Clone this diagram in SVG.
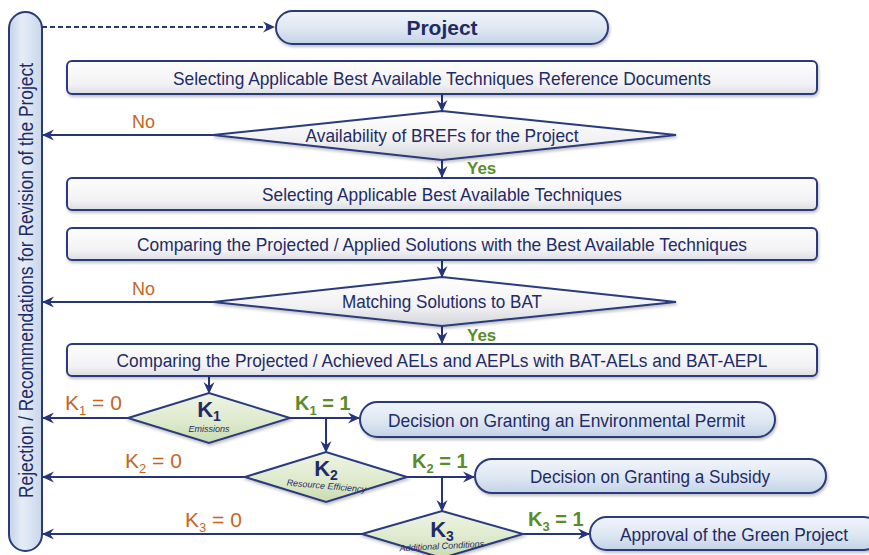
<svg xmlns="http://www.w3.org/2000/svg" width="869" height="555" viewBox="0 0 869 555">
<defs>
<linearGradient id="gBox" x1="0" y1="0" x2="0" y2="1"><stop offset="0" stop-color="#fdfdfe"/><stop offset="0.7" stop-color="#f2f2f4"/><stop offset="1" stop-color="#dcdde3"/></linearGradient>
<linearGradient id="gPill" x1="0" y1="0" x2="0" y2="1"><stop offset="0" stop-color="#f1f5fb"/><stop offset="0.6" stop-color="#dbe5f1"/><stop offset="1" stop-color="#c2d2e6"/></linearGradient>
<linearGradient id="gBar" x1="0" y1="0" x2="1" y2="0"><stop offset="0" stop-color="#c3d3e7"/><stop offset="0.4" stop-color="#e6edf6"/><stop offset="1" stop-color="#c9d7ea"/></linearGradient>
<linearGradient id="gDia" x1="0" y1="0" x2="0" y2="1"><stop offset="0" stop-color="#ffffff"/><stop offset="0.6" stop-color="#f1f1f3"/><stop offset="1" stop-color="#d2d3da"/></linearGradient>
<linearGradient id="gK" x1="0" y1="0" x2="0" y2="1"><stop offset="0" stop-color="#eef4e4"/><stop offset="0.6" stop-color="#dde9cb"/><stop offset="1" stop-color="#c9dbb0"/></linearGradient>
<filter id="sh" x="-5%" y="-20%" width="110%" height="150%"><feDropShadow dx="1" dy="2" stdDeviation="1.5" flood-color="#000" flood-opacity="0.25"/></filter>
<marker id="ah" viewBox="0 0 12 12" refX="11" refY="6" markerWidth="12" markerHeight="12" markerUnits="userSpaceOnUse" orient="auto">
<path d="M0,0.5 L12,6 L0,11.5 L4,6 Z" fill="#26357a"/>
</marker>
<style>
.box{fill:url(#gBox);stroke:#2a3a7c;stroke-width:2;filter:url(#sh)}
.pill{fill:url(#gPill);stroke:#2a3a7c;stroke-width:2;filter:url(#sh)}
.dia{fill:url(#gDia);stroke:#2a3a7c;stroke-width:2;filter:url(#sh)}
.kd{fill:url(#gK);stroke:#2a3a7c;stroke-width:2;filter:url(#sh)}
.t{font-family:"Liberation Sans",Arial,sans-serif;font-size:19px;fill:#1f2b66;text-anchor:middle}
.kt{font-family:"Liberation Sans",Arial,sans-serif;font-size:22px;font-weight:bold;fill:#1f2b66;text-anchor:middle}
.ks{font-family:"Liberation Sans",Arial,sans-serif;font-size:9px;font-style:italic;fill:#1f2b66;text-anchor:middle}
.no{font-family:"Liberation Sans",Arial,sans-serif;font-size:18px;fill:#c6651f}
.yes{font-family:"Liberation Sans",Arial,sans-serif;font-size:17px;font-weight:bold;fill:#5a8c2a}
.c{fill:none;stroke:#26357a;stroke-width:2}
.ca{fill:none;stroke:#26357a;stroke-width:2;marker-end:url(#ah)}
</style>
</defs>
<rect width="869" height="555" fill="#ffffff"/>

<g id="bar">
<rect x="9" y="12" width="33" height="539" rx="16.5" fill="url(#gBar)" stroke="#2a3a7c" stroke-width="2"/>
<text class="t" transform="translate(33,280.5) rotate(-90)" x="0" y="0" style="font-size:19.5px" textLength="435" lengthAdjust="spacingAndGlyphs">Rejection / Recommendations for Revision of the Project</text>
</g>

<g id="connectors">
<path class="ca" d="M42,27 L274,27" stroke-dasharray="5,3"/>
<path class="ca" d="M442,94 L442,111"/>
<path class="ca" d="M213,135 L43,135"/>
<path class="ca" d="M442,160 L442,177"/>
<path class="ca" d="M442,260 L442,277"/>
<path class="ca" d="M213,302 L43,302"/>
<path class="ca" d="M442,326 L442,343"/>
<path class="ca" d="M209,377 L209,393"/>
<path class="ca" d="M128,418 L43,418"/>
<path class="ca" d="M290,418 L359,418"/>
<path class="ca" d="M326,418 L326,452"/>
<path class="ca" d="M245,477 L43,477"/>
<path class="ca" d="M407,477 L474,477"/>
<path class="ca" d="M442,477 L442,511"/>
<path class="ca" d="M362,534 L43,534"/>
<path class="ca" d="M523,534 L589,534"/>
</g>

<g id="labels">
<text class="no" x="132" y="128">No</text>
<text class="no" x="132" y="295">No</text>
<text class="yes" x="467" y="174">Yes</text>
<text class="yes" x="467" y="341">Yes</text>
<text class="no" x="65" y="410" style="font-size:21px">K<tspan dy="5" style="font-size:13px">1</tspan><tspan dy="-5"> = 0</tspan></text>
<text class="no" x="125" y="468" style="font-size:21px">K<tspan dy="5" style="font-size:13px">2</tspan><tspan dy="-5"> = 0</tspan></text>
<text class="no" x="185" y="527" style="font-size:21px">K<tspan dy="5" style="font-size:13px">3</tspan><tspan dy="-5"> = 0</tspan></text>
<text class="yes" x="295" y="410" style="font-size:20px">K<tspan dy="5" style="font-size:13px">1</tspan><tspan dy="-5"> = 1</tspan></text>
<text class="yes" x="412" y="468" style="font-size:20px">K<tspan dy="5" style="font-size:13px">2</tspan><tspan dy="-5"> = 1</tspan></text>
<text class="yes" x="528" y="526" style="font-size:20px">K<tspan dy="5" style="font-size:13px">3</tspan><tspan dy="-5"> = 1</tspan></text>
</g>

<g id="project">
<rect class="pill" x="276" y="11" width="332" height="33" rx="16.5"/>
<text class="t" x="442" y="35" style="font-size:21px;font-weight:bold">Project</text>
</g>

<g id="box1">
<rect class="box" x="67" y="61" width="750" height="33" rx="5"/>
<text class="t" x="442" y="84.5" textLength="538" lengthAdjust="spacingAndGlyphs">Selecting Applicable Best Available Techniques Reference Documents</text>
</g>

<g id="dec1">
<polygon class="dia" points="213,135 442,111 676,135 442,160"/>
<text class="t" x="442" y="142" textLength="273" lengthAdjust="spacingAndGlyphs">Availability of BREFs for the Project</text>
</g>

<g id="box2">
<rect class="box" x="67" y="178" width="750" height="32" rx="5"/>
<text class="t" x="442" y="201" textLength="360" lengthAdjust="spacingAndGlyphs">Selecting Applicable Best Available Techniques</text>
</g>

<g id="box3">
<rect class="box" x="67" y="228" width="750" height="32" rx="5"/>
<text class="t" x="442" y="251" textLength="610" lengthAdjust="spacingAndGlyphs">Comparing the Projected / Applied Solutions with the Best Available Techniques</text>
</g>

<g id="dec2">
<polygon class="dia" points="213,302 442,277 676,302 442,326"/>
<text class="t" x="442" y="308" textLength="200" lengthAdjust="spacingAndGlyphs">Matching Solutions to BAT</text>
</g>

<g id="box4">
<rect class="box" x="67" y="344" width="750" height="32" rx="5"/>
<text class="t" x="442" y="367" textLength="651" lengthAdjust="spacingAndGlyphs">Comparing the Projected / Achieved AELs and AEPLs with BAT-AELs and BAT-AEPL</text>
</g>

<g id="k1">
<polygon class="kd" points="128,418 209,393 290,418 209,443"/>
<text class="kt" x="209" y="417">K<tspan dy="4" style="font-size:14px">1</tspan></text>
<text class="ks" x="209" y="432">Emissions</text>
</g>

<g id="permit">
<rect class="pill" x="360" y="402" width="415" height="35" rx="17.5"/>
<text class="t" x="566.5" y="426.5" textLength="357" lengthAdjust="spacingAndGlyphs">Decision on Granting an Environmental Permit</text>
</g>

<g id="k2">
<polygon class="kd" points="245,477 326,452 407,477 326,502"/>
<text class="kt" x="326" y="476">K<tspan dy="4" style="font-size:14px">2</tspan></text>
<text class="ks" transform="translate(326,489) rotate(5)" x="0" y="0">Resource Efficiency</text>
</g>

<g id="subsidy">
<rect class="pill" x="475" y="459" width="351" height="34" rx="17"/>
<text class="t" x="650" y="483" textLength="240" lengthAdjust="spacingAndGlyphs">Decision on Granting a Subsidy</text>
</g>

<g id="k3">
<polygon class="kd" points="362,534 442,511 523,534 442,558"/>
<text class="kt" x="442" y="537">K<tspan dy="4" style="font-size:14px">3</tspan></text>
<text class="ks" transform="translate(442,549) rotate(-3)" x="0" y="0">Additional Conditions</text>
</g>

<g id="green">
<rect class="pill" x="590" y="517" width="290" height="33" rx="16.5"/>
<text class="t" x="734" y="540.5" textLength="228" lengthAdjust="spacingAndGlyphs">Approval of the Green Project</text>
</g>
</svg>
